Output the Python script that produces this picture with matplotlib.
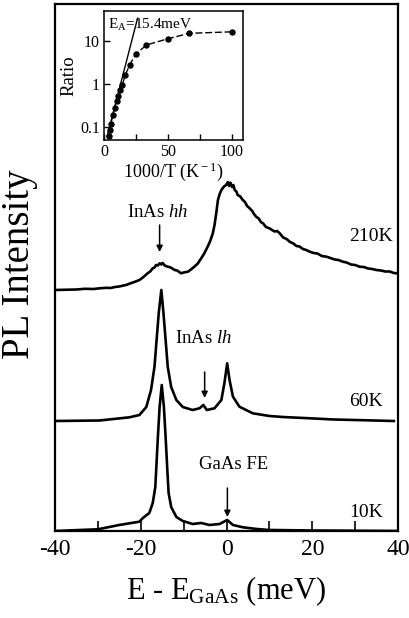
import matplotlib
matplotlib.use("Agg")
import matplotlib.pyplot as plt
from matplotlib.ticker import MultipleLocator, FixedLocator, NullLocator

plt.rcParams['font.family'] = ['Liberation Serif', 'DejaVu Serif']
plt.rcParams['mathtext.fontset'] = 'custom'
plt.rcParams['mathtext.rm'] = 'Liberation Serif'
plt.rcParams['mathtext.it'] = 'Liberation Serif:italic'
plt.rcParams['axes.unicode_minus'] = False

# PL spectra, energy relative to GaAs gap (meV) and intensity (arb. units)
e_10K = [-40, -30, -25, -20.3, -19.5, -18.0, -17.2, -16.6, -16.4, -16.0, -15.6, -15.1,
         -14.6, -14.2, -13.8, -13.5, -12.9, -11.7, -10.2, -7.9, -5.9, -4.0, -1.6, 0.15,
         1.5, 3.8, 7, 10, 20, 40]
i_10K = [0, 1.7, 6, 9.3, 13, 18, 28, 44, 61, 94, 124, 146,
         124, 94, 61, 38, 24, 14, 10, 7, 8, 6, 7, 11,
         6, 3.7, 2, 1, 0.5, 0]

e_60K = [-40, -29.6, -22.6, -20.3, -18.7, -17.6, -16.8, -16.3, -15.8, -15.2, -14.7,
         -14.2, -13.7, -12.9, -11.7, -10.2, -7.9, -6.3, -5.4, -4.6, -2.8, -1.2, -0.5,
         0.15, 0.7, 1.5, 3.0, 6.1, 10, 13.1, 18, 25, 39]
i_60K = [0, 0.5, 3.7, 6, 14, 31, 54, 81, 108, 131, 108,
         81, 54, 34, 21, 14, 11, 12.7, 16, 11, 12.7, 21, 37.7,
         57.7, 41, 24.3, 14.3, 7.7, 5, 4, 3, 1.5, 0]

e_210K = [-40, -37, -35, -33, -31, -29.6, -28, -27, -26, -25, -24, -23.4, -22.5, -21.5,
          -20.3, -19.5, -18.4, -17.8, -17.2, -16.8, -16.4, -16, -15.6, -15.2, -14.9,
          -14.4, -13.7, -13, -12.1, -11.5, -10.6, -10, -9.0, -8.3, -7.5, -6.7, -5.9,
          -5.2, -4.4, -3.8, -3.2, -2.8, -2.4, -2.0, -1.6, -1.2, -0.6, -0.1, 0.3, 0.6,
          0.9, 1.3, 1.6, 1.9, 2.3, 2.6, 3.2, 3.8, 4.3, 4.8, 5.4, 6.0, 6.4, 6.9, 7.5,
          8.0, 8.5, 9.2, 10, 10.6, 11.2, 11.8, 12.4, 13.2, 14, 14.8, 15.5, 16.3, 17,
          17.8, 18.6, 19.4, 20.3, 21.2, 22.2, 23.3, 24.2, 25.2, 26.1, 27.1, 28, 29,
          30, 31, 32, 33, 34, 34.9, 36, 37, 38, 39, 39.6, 40]
i_210K = [0, 0.3, 0.5, 1.2, 1.0, 1.7, 2.2, 2.0, 3, 3.5, 4.5, 5, 6.5, 8,
          10, 12.5, 16.7, 18.5, 21.7, 22.5, 25, 24.5, 26.7, 25.5, 27,
          24.5, 23.3, 22.5, 20, 19.5, 16.7, 17.5, 18.3, 20.5, 23.3, 26.5, 31.7,
          36.5, 43.3, 49, 56.7, 65, 76.7, 90, 96, 100, 103.5, 105, 108, 104,
          107.3, 103, 105, 100, 98.5, 95, 93.5, 90, 88, 84, 81.7, 79, 76, 73.3, 71.5,
          68, 66.7, 63, 61.7, 60, 58.5, 59, 56.7, 52.5, 51, 48, 46.7, 44, 43.5,
          41, 40, 38.3, 37, 36.5, 34, 33.3, 32, 30.5, 30, 28.3, 27.5, 25.5,
          25, 23.3, 23, 21.5, 21, 20, 19.5, 18.5, 18.5, 17, 16.7, 17.5]

offsets = {'10K': 0, '60K': 110, '210K': 241}

# inset: InAs/GaAs intensity ratio vs 1000/T
inv_T = [100, 66.7, 50, 33.3, 25, 20, 16.7, 14.3, 12.5, 11.1, 10, 8.3, 6.7, 5.6, 4.8, 4.2]
ratio = [16.4, 15.1, 11.3, 8.1, 5.0, 2.77, 1.62, 0.95, 0.72, 0.54, 0.41, 0.28, 0.19,
         0.12, 0.085, 0.063]
fit_x = [2.3, 26.3]
fit_y = [0.059, 34]

fig = plt.figure(figsize=(4.1, 6.18), dpi=100)
ax = fig.add_axes([0.134, 0.1408, 0.837, 0.8527])

for e, i, key in [(e_10K, i_10K, '10K'), (e_60K, i_60K, '60K'), (e_210K, i_210K, '210K')]:
    ax.plot(e, [v + offsets[key] for v in i], color='black', lw=1.9)

ax.set_xlim(-40, 40)
ax.set_ylim(0, 527)
ax.xaxis.set_major_locator(MultipleLocator(20))
ax.xaxis.set_minor_locator(MultipleLocator(10))
ax.tick_params(axis='x', which='both', direction='in', length=7, width=1.2,
               labelsize=17, pad=6, top=False)
ax.set_yticks([])
for s in ax.spines.values():
    s.set_linewidth(1.6)

ax.set_xlabel(r'E - E$_{\rm GaAs}$ (meV)', fontsize=22, va='top')
ax.xaxis.set_label_coords(0.5, -0.082)
ax.set_ylabel('PL Intensity', fontsize=28, va='center')
ax.yaxis.set_label_coords(-0.102, 0.507)

# peak labels and arrows
arrow = dict(arrowstyle='-|>', color='black', lw=1.1, mutation_scale=9, shrinkA=0, shrinkB=0)
ax.text(-16.1, 319, r'InAs $hh$', fontsize=13.5, ha='center', va='center')
ax.annotate('', xy=(-15.6, 279), xytext=(-15.6, 306), arrowprops=arrow)
ax.text(-12.1, 192, r'InAs $lh$', fontsize=13.5, ha='left', va='center')
ax.annotate('', xy=(-5.1, 133), xytext=(-5.1, 159), arrowprops=arrow)
ax.text(1.6, 66, 'GaAs FE', fontsize=13.5, ha='center', va='center')
ax.annotate('', xy=(0.2, 14), xytext=(0.2, 43), arrowprops=arrow)

ax.text(38.7, 295, '210K', fontsize=14, ha='right', va='center')
ax.text(36.4, 129, '60K', fontsize=14, ha='right', va='center')
ax.text(36.4, 18, '10K', fontsize=14, ha='right', va='center')

# inset
axi = fig.add_axes([0.2537, 0.7735, 0.339, 0.2087])
axi.plot(inv_T, ratio, color='black', lw=1.0, ls=(0, (5, 2)), marker='o', ms=3.6)
axi.plot(fit_x, fit_y, color='black', lw=1.0)
axi.set_yscale('log')
axi.set_xlim(0, 109)
axi.set_ylim(0.05, 50)
axi.yaxis.set_major_locator(FixedLocator([0.1, 1, 10]))
axi.yaxis.set_minor_locator(NullLocator())
axi.set_yticklabels(['0.1', '1', '10'])
axi.xaxis.set_major_locator(FixedLocator([0, 50, 100]))
axi.xaxis.set_minor_locator(FixedLocator([25, 75]))
axi.tick_params(which='both', direction='in', length=4, width=1.0, labelsize=11.5, pad=3)
for s in axi.spines.values():
    s.set_linewidth(1.1)
axi.set_xlabel(r'1000/T (K$^{\rm -1}$)', fontsize=13, labelpad=0)
axi.set_ylabel('Ratio', fontsize=13.5, labelpad=2)
axi.text(0.03, 0.89, r'E$_{\rm A}$=15.4meV', transform=axi.transAxes,
         fontsize=11, ha='left', va='center')

fig.savefig('out.png', dpi=100)
